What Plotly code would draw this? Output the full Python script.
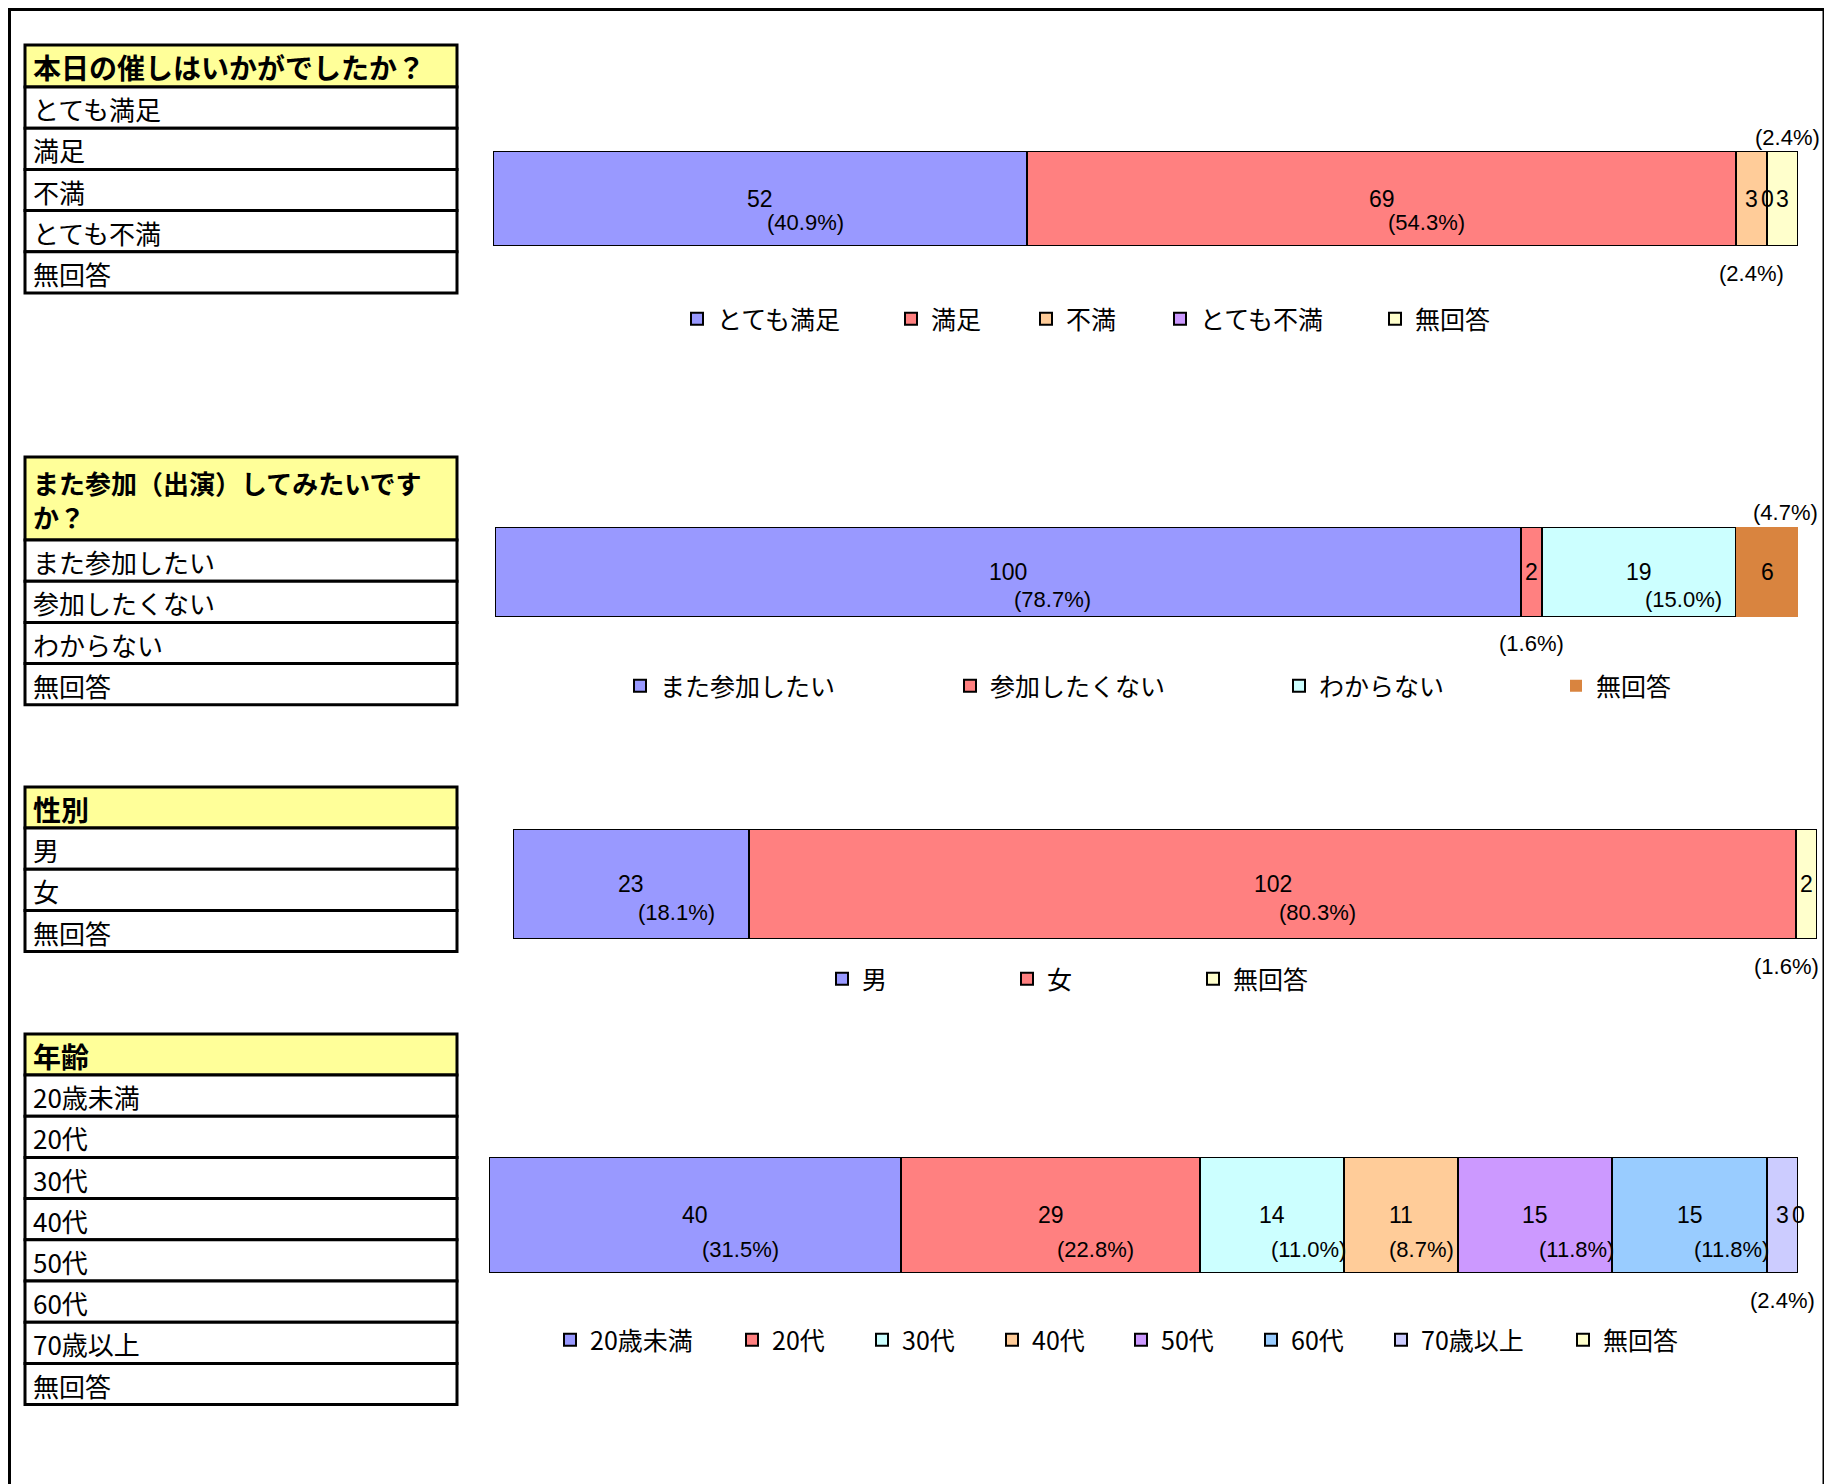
import plotly.graph_objects as go

# ---------------------------------------------------------------- data
q1_title = "本日の催しはいかがでしたか？"
q1_labels = ["とても満足", "満足", "不満", "とても不満", "無回答"]
q1_counts = [52, 69, 3, 0, 3]
q1_pcts = [40.9, 54.3, 2.4, None, 2.4]

q2_title = "また参加（出演）してみたいです<br>か？"
q2_labels = ["また参加したい", "参加したくない", "わからない", "無回答"]
q2_counts = [100, 2, 19, 6]
q2_pcts = [78.7, 1.6, 15.0, 4.7]

q3_title = "性別"
q3_labels = ["男", "女", "無回答"]
q3_counts = [23, 102, 2]
q3_pcts = [18.1, 80.3, 1.6]

q4_title = "年齢"
q4_labels = ["20歳未満", "20代", "30代", "40代", "50代", "60代", "70歳以上", "無回答"]
q4_counts = [40, 29, 14, 11, 15, 15, 3, 0]
q4_pcts = [31.5, 22.8, 11.0, 8.7, 11.8, 11.8, 2.4, None]

# ---------------------------------------------------------------- styles
q1_colors = ["#9999FF", "#FF8080", "#FFCC99", "#CC99FF", "#FFFFCC"]
q2_colors = ["#9999FF", "#FF8080", "#CCFFFF", "#D9843F"]
q3_colors = ["#9999FF", "#FF8080", "#FFFFCC"]
q4_colors = ["#9999FF", "#FF8080", "#CCFFFF", "#FFCC99",
             "#CC99FF", "#99CCFF", "#CCCCFF", "#FFFFCC"]

# where the percentage label sits: inside the bar, below it or above it
q1_place = ["in", "in", "below", None, "above"]
q2_place = ["in", "below", "in", "above"]
q3_place = ["in", "in", "below"]
q4_place = ["in", "in", "in", "in", "in", "in", "below", None]

# the page body keeps an 8px margin, so the figure is 8px smaller than the window
PAGE_OFF = 8
FW, FH = 1824, 1476
JP = "Noto Sans CJK JP, sans-serif"
NUM = "Liberation Sans, Arial, sans-serif"
ROW_H = 41.2
TABLE_X = (25, 457)


def px_x(v):
    return (v - PAGE_OFF) / FW


def px_y(v):
    return 1 - (v - PAGE_OFF) / FH


# pixel layout (page coordinates) of each block: table + bar + legend
panels = [
    dict(title=q1_title, labels=q1_labels, counts=q1_counts, pcts=q1_pcts,
         place=q1_place, colors=q1_colors, outline=[True] * 5,
         table_top=45, head_h=42, head_size=28,
         bar_x=(493, 1798), bar_y=(151, 246), pct_dy=-24,
         leg_y=319, leg_x=[696, 910, 1045, 1179, 1394]),
    dict(title=q2_title, labels=q2_labels, counts=q2_counts, pcts=q2_pcts,
         place=q2_place, colors=q2_colors, outline=[True, True, True, False],
         table_top=457, head_h=83, head_size=26,
         bar_x=(495, 1798), bar_y=(527, 617), pct_dy=-28,
         leg_y=686, leg_x=[639, 969, 1298, 1575]),
    dict(title=q3_title, labels=q3_labels, counts=q3_counts, pcts=q3_pcts,
         place=q3_place, colors=q3_colors, outline=[True] * 3,
         table_top=787, head_h=41, head_size=28,
         bar_x=(513, 1817), bar_y=(829, 939), pct_dy=-28,
         leg_y=979, leg_x=[841, 1026, 1212]),
    dict(title=q4_title, labels=q4_labels, counts=q4_counts, pcts=q4_pcts,
         place=q4_place, colors=q4_colors, outline=[True] * 8,
         table_top=1034, head_h=41, head_size=28,
         bar_x=(489, 1798), bar_y=(1157, 1273), pct_dy=-34,
         leg_y=1340, leg_x=[569, 751, 881, 1011, 1140, 1270, 1400, 1582]),
]

fig = go.Figure()
shapes = []
annotations = []
layout_extra = {}

# outer frame (top/left edge sit on the figure edge)
shapes.append(dict(type="rect", xref="paper", yref="paper",
                   x0=1.5 / FW, x1=px_x(1824), y0=1 - 1.5 / FH, y1=-0.05,
                   line=dict(color="black", width=3), fillcolor="rgba(0,0,0,0)"))

leg_n = 0
for i, p in enumerate(panels):
    s = "" if i == 0 else str(i + 1)
    total = sum(p["counts"])
    bx0, bx1 = p["bar_x"]
    by0, by1 = p["bar_y"]
    bar_px = bx1 - bx0

    # ---------------------------------------------------------- table
    top = p["table_top"]
    shapes.append(dict(type="rect", xref="paper", yref="paper",
                       x0=px_x(TABLE_X[0]), x1=px_x(TABLE_X[1]),
                       y0=px_y(top), y1=px_y(top + p["head_h"]),
                       fillcolor="#FFFF99", line=dict(color="black", width=3)))
    annotations.append(dict(xref="paper", yref="paper", x=px_x(31),
                            y=px_y(top + p["head_h"] / 2 + 1),
                            xanchor="left", yanchor="middle", align="left",
                            text="<b>" + p["title"] + "</b>", showarrow=False,
                            font=dict(family=JP, size=p["head_size"], color="black")))
    row_top = top + p["head_h"]
    for k, lab in enumerate(p["labels"]):
        y0 = row_top + k * ROW_H
        shapes.append(dict(type="rect", xref="paper", yref="paper",
                           x0=px_x(TABLE_X[0]), x1=px_x(TABLE_X[1]),
                           y0=px_y(y0), y1=px_y(y0 + ROW_H),
                           fillcolor="white", line=dict(color="black", width=3)))
        annotations.append(dict(xref="paper", yref="paper", x=px_x(31),
                                y=px_y(y0 + ROW_H / 2 + 1),
                                xanchor="left", yanchor="middle",
                                text=lab, showarrow=False,
                                font=dict(family=JP, size=26, color="black")))

    # ---------------------------------------------------------- bar + legend
    # one small legend per item so the spacing can follow the original
    for lab, v, col, ol, lx in zip(p["labels"], p["counts"], p["colors"],
                                   p["outline"], p["leg_x"]):
        leg_n += 1
        leg_id = "legend" if leg_n == 1 else f"legend{leg_n}"
        fig.add_trace(go.Bar(
            x=[v], y=[0], orientation="h", name=lab,
            marker=dict(color=col, line=dict(color="black", width=2 if ol else 0)),
            xaxis="x" + s, yaxis="y" + s, legend=leg_id,
            hovertemplate=lab + ": %{x}<extra></extra>",
        ))
        layout_extra[leg_id] = dict(
            orientation="h", x=px_x(lx - 19), y=px_y(p["leg_y"]),
            xanchor="left", yanchor="middle",
            font=dict(family=JP, size=25, color="black"),
            bgcolor="rgba(0,0,0,0)",
        )

    layout_extra["xaxis" + s] = dict(domain=[px_x(bx0), px_x(bx1)], range=[0, total],
                                     visible=False, fixedrange=True,
                                     anchor="y" + s)
    layout_extra["yaxis" + s] = dict(domain=[px_y(by1), px_y(by0)], range=[-0.5, 0.5],
                                     visible=False, fixedrange=True,
                                     anchor="x" + s)

    # ---------------------------------------------------------- labels
    cum = 0
    for v, pct, place in zip(p["counts"], p["pcts"], p["place"]):
        mid = cum + v / 2
        cum += v
        annotations.append(dict(xref="x" + s, yref="y" + s, x=mid, y=0,
                                text=str(v), showarrow=False,
                                font=dict(family=NUM, size=23, color="black")))
        if pct is None or place is None:
            continue
        txt = f"({pct:.1f}%)"
        seg_px = v / total * bar_px
        mid_px = bx0 + mid / total * bar_px
        if place == "in":
            xs = max(0, min(45, seg_px / 2 - 36))
            annotations.append(dict(xref="x" + s, yref="y" + s, x=mid, y=0,
                                    text=txt, showarrow=False,
                                    yshift=p["pct_dy"], xshift=xs,
                                    font=dict(family=NUM, size=22, color="black")))
        elif place == "below":
            xs = min(0, 1822 - (mid_px + 35))
            annotations.append(dict(xref="x" + s, yref="y" + s, x=mid, y=-0.5,
                                    text=txt, showarrow=False, yshift=-27, xshift=xs,
                                    yanchor="middle",
                                    font=dict(family=NUM, size=22, color="black")))
        else:
            xs = min(18, 1822 - (mid_px + 35))
            annotations.append(dict(xref="x" + s, yref="y" + s, x=mid, y=0.5,
                                    text=txt, showarrow=False, yshift=14, xshift=xs,
                                    yanchor="middle",
                                    font=dict(family=NUM, size=22, color="black")))

fig.update_layout(
    width=FW, height=FH,
    margin=dict(l=0, r=0, t=0, b=0, autoexpand=False),
    paper_bgcolor="white", plot_bgcolor="rgba(0,0,0,0)",
    barmode="stack", bargap=0,
    showlegend=True,
    shapes=shapes, annotations=annotations,
    **layout_extra,
)

fig.write_html("out.html")
